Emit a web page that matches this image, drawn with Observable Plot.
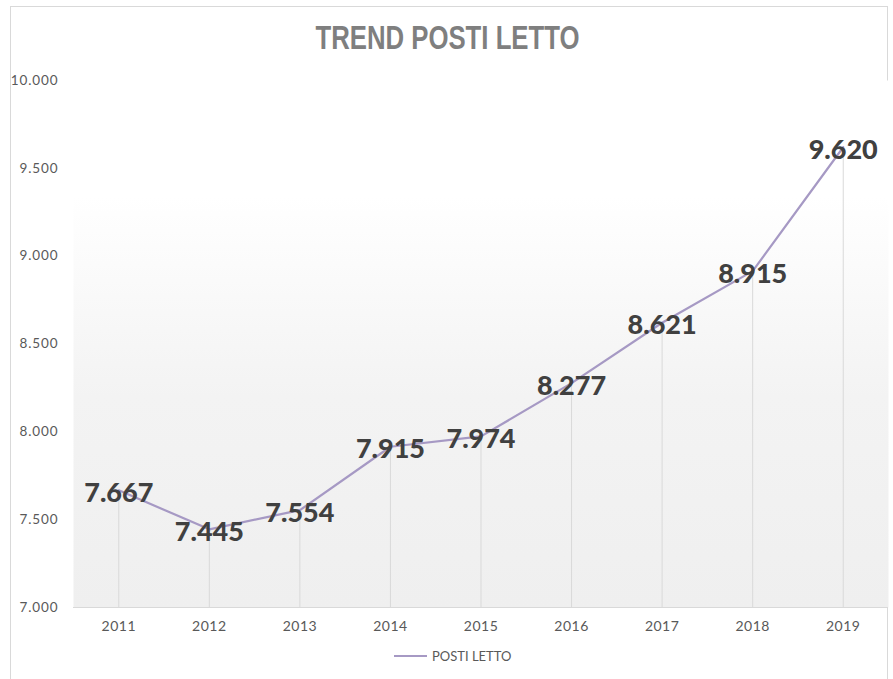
<!DOCTYPE html>
<html>
<head>
<meta charset="utf-8">
<script src="https://cdn.jsdelivr.net/npm/d3@7"></script>
<script src="https://cdn.jsdelivr.net/npm/@observablehq/plot@0.6"></script>
<style>
  html, body { margin: 0; padding: 0; background: #fff; }
  #wrap { position: relative; width: 893px; height: 679px; overflow: hidden; }
  #frame { position: absolute; left: 10px; top: 6px; width: 878px; height: 690px; border: 1px solid #d9d9d9; box-sizing: border-box; }
  #title { position: absolute; left: 0; width: 893px; top: 19px; line-height: 38px; text-align: center; transform: scaleX(0.78); transform-origin: 451px 0;
    font-family: "Liberation Sans", Arial, sans-serif;
    font-size: 33px; font-weight: bold; color: #7f7f7f; }
  #chart { position: absolute; left: 0; top: 0; }
  #legend { position: absolute; top: 648px; left: 394px; font-family: Lato, "Open Sans", sans-serif; font-size: 13px; color: #595959; display: flex; align-items: center; }
  #legend .sw { width: 33px; height: 2px; background: #a699c4; margin-right: 5px; }
  #chart svg [aria-label="y-axis tick label"] text { letter-spacing: 0.9px; }
  #chart svg [aria-label="x-axis tick label"] text { letter-spacing: 0.5px; }
</style>
</head>
<body>
<div id="wrap">
  <div id="frame"></div>
  <div id="chart"></div>
  <div id="title">TREND POSTI LETTO</div>
  <div id="legend"><span class="sw"></span><span>POSTI LETTO</span></div>
</div>
<script>
const years = ["2011","2012","2013","2014","2015","2016","2017","2018","2019"];
const postiLetto = [7667, 7445, 7554, 7915, 7974, 8277, 8621, 8915, 9620];
const yTicks = [7000, 7500, 8000, 8500, 9000, 9500, 10000];

const data = years.map((y, i) => ({year: y, value: postiLetto[i]}));
const fmt = d3.formatLocale({decimal: ",", thousands: ".", grouping: [3]}).format(",.0f");
const fmt3 = v => fmt(v);

const chart = Plot.plot({
  width: 893,
  height: 679,
  marginLeft: 73,
  marginRight: 5,
  marginTop: 80,
  marginBottom: 72,
  style: {background: "transparent", fontFamily: "Lato, 'Open Sans', sans-serif", fontSize: "13.5px", color: "#595959"},
  x: {type: "point", domain: years, padding: 0.5, round: false, label: null, tickSize: 0, tickPadding: 14},
  y: {domain: [7000, 10000], ticks: yTicks, tickFormat: fmt3, label: null, tickSize: 0, tickPadding: 15},
  marks: [
    Plot.frame({fill: "url(#bgGrad)", stroke: null}),
    Plot.ruleX(data, {x: "year", y1: 7000, y2: "value", stroke: "#d9d9d9", strokeWidth: 1}),
    Plot.ruleY([7000], {stroke: "#d9d9d9", strokeWidth: 1}),
    Plot.line(data, {x: "year", y: "value", stroke: "#a699c4", strokeWidth: 2.2}),
    Plot.text(data, {x: "year", y: "value", text: d => fmt3(d.value), dy: 3, fontSize: 27, fontWeight: 900,
      fill: "#404040", fontFamily: "Lato, 'Open Sans', sans-serif", textAnchor: "middle", lineAnchor: "middle"})
  ]
});

const svg = d3.select(chart);
const defs = svg.insert("defs", ":first-child");
const g = defs.append("linearGradient").attr("id", "bgGrad").attr("x1", 0).attr("y1", 0).attr("x2", 0).attr("y2", 1);
g.append("stop").attr("offset", "0%").attr("stop-color", "#ffffff");
g.append("stop").attr("offset", "22%").attr("stop-color", "#ffffff");
g.append("stop").attr("offset", "60%").attr("stop-color", "#f3f3f3");
g.append("stop").attr("offset", "100%").attr("stop-color", "#efefef");
svg.selectAll('[aria-label="x-axis tick label"] text').attr("font-size", 14);

document.getElementById("chart").appendChild(chart);
</script>
</body>
</html>
